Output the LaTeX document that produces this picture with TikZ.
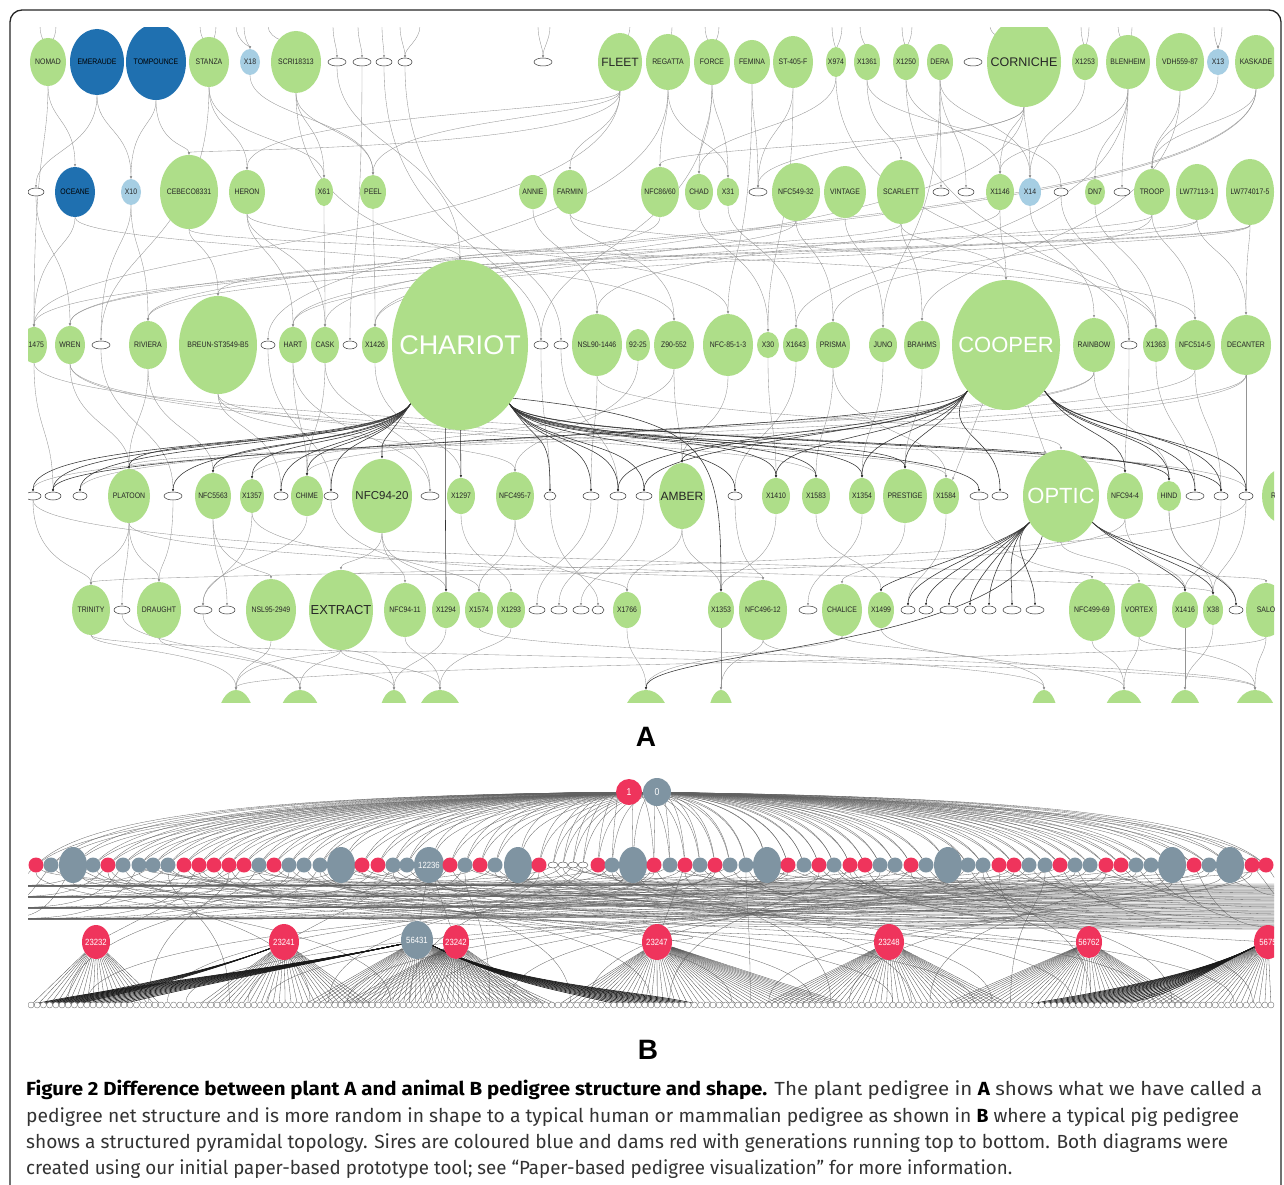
\documentclass[tikz,border=0pt]{standalone}
\usepackage{fontspec}
\usepackage{graphicx}
\setmainfont{Liberation Sans}
\newfontfamily\labfont[FakeStretch=0.86]{Liberation Sans}
\newfontfamily\bigfont{Liberation Sans}
\newfontfamily\capfont{Fira Sans}
\usetikzlibrary{shapes.geometric,arrows.meta}
\pgfdeclarelayer{bgl}
\pgfdeclarelayer{edges}
\pgfsetlayers{bgl,edges,main}
\definecolor{agreen}{RGB}{174,222,137}
\definecolor{adblue}{RGB}{31,112,176}
\definecolor{albue}{RGB}{166,206,227}
\definecolor{bred}{RGB}{239,52,92}
\definecolor{bgray}{RGB}{127,148,162}
\newcommand\tx[1]{\makebox[0pt]{#1}}
\newcommand\nd[6][gn]{\node[#1,minimum width=#5,minimum height=#6] (#2) at (#3) {\tx{#4}};}
\newcommand\sme[3][18]{\node[sm,minimum width=#1] (#2) at (#3) {};}
\tikzset{
  gn/.style={ellipse, fill=agreen, inner sep=0pt, text=black!85, font=\labfont\fontsize{8}{8}\selectfont},
  bn/.style={gn, fill=adblue, text=black},
  ln/.style={gn, fill=albue},
  sm/.style={ellipse, draw=black!80, line width=0.5pt, fill=white, minimum height=8, inner sep=0pt},
  fsz/.style={font=\bigfont\fontsize{#1}{#1}\selectfont},
  eA/.style={draw=black!42, line width=0.35pt, -{Latex[length=2.6pt,width=2.2pt]}},
  eT/.style={draw=black!80, line width=0.55pt, -{Latex[length=2.6pt,width=2.2pt]}},
  kr/.style={circle, fill=bred, minimum size=15, inner sep=0pt},
  kg/.style={circle, fill=bgray, minimum size=15, inner sep=0pt},
  kG/.style={ellipse, fill=bgray, minimum width=28, minimum height=36, inner sep=0pt},
  kX/.style={kG, minimum width=30, label={[text=white,font=\labfont\fontsize{9}{9}\selectfont]center:12236}},
  ke/.style={ellipse, draw=black!70, fill=white, line width=0.4pt, minimum width=10, minimum height=6, inner sep=0pt},
  kb/.style={ellipse, inner sep=0pt, text=white, font=\labfont\fontsize{9}{9}\selectfont},
  bnode/.style={circle, draw=black!55, fill=white, line width=0.4pt, minimum size=6, inner sep=0pt},
  eB/.style={draw=black!62, line width=0.3pt},
  fan/.style={draw=black!70, line width=0.3pt},
  eBt/.style={draw=black!90, line width=0.6pt},
}
\begin{document}
\begin{tikzpicture}[x=1pt,y=-1pt]
\useasboundingbox (0,0) rectangle (1284,1185);
\begin{pgfonlayer}{bgl}
\fill[white] (0,0) rectangle (1284,1185);
\end{pgfonlayer}
\draw[line width=1.3pt, black!85, rounded corners=12pt] (10,1200) -- (10,10) -- (1281,10) -- (1281,1200);

% ================= PANEL A nodes =================
\begin{scope}
\clip (28,28) rectangle (1274,702);
% row 1
\nd{nomad}{48,62}{NOMAD}{36}{48}
\nd[bn]{emeraude}{97,62}{EMERAUDE}{54}{66}
\nd[bn]{tompounce}{156,62}{TOMPOUNCE}{60}{76}
\nd{stanza}{209,62}{STANZA}{40}{50}
\nd[ln]{xeighteen}{250,62}{X18}{20}{26}
\nd{scri}{296,62}{SCRI18313}{50}{62}
\sme{s1a}{337,62} \sme{s1b}{362,62} \sme[16]{s1c}{384,62} \sme[14]{s1d}{405,62} \sme{s1e}{543,62}
\nd[gn,fsz=12]{fleet}{620,62}{FLEET}{44}{58}
\nd{regatta}{668,62}{REGATTA}{44}{56}
\nd{force}{712,62}{FORCE}{36}{46}
\nd{femina}{752,62}{FEMINA}{36}{44}
\nd{st405}{793,62}{ST-405-F}{40}{52}
\nd{x974}{836,62}{X974}{20}{30}
\nd{x1361}{867,62}{X1361}{26}{36}
\nd{x1250}{906,62}{X1250}{26}{36}
\nd{dera}{940,62}{DERA}{26}{36}
\sme{s1f}{973,62}
\nd[gn,fsz=12.5]{corniche}{1024,62}{CORNICHE}{74}{90}
\nd{x1253}{1085,62}{X1253}{26}{36}
\nd{blenheim}{1128,62}{BLENHEIM}{44}{54}
\nd{vdh}{1180,62}{VDH559-87}{48}{58}
\nd[ln]{xthirteen}{1218,62}{X13}{22}{26}
\nd{kaskade}{1256,62}{KASKADE}{42}{54}
% row 2
\sme[16]{s2a}{36,192}
\nd[bn]{oceane}{75,192}{OCEANE}{40}{50}
\nd[ln]{x10}{131,192}{X10}{20}{26}
\nd{cebeco}{189,192}{CEBECO8331}{58}{74}
\nd{heron}{247,192}{HERON}{36}{44}
\nd{x61}{324,192}{X61}{18}{28}
\nd{peel}{373,192}{PEEL}{26}{34}
\nd{annie}{533,192}{ANNIE}{28}{34}
\nd{farmin}{570,192}{FARMIN}{34}{44}
\nd{nfca}{660,192}{NFC86/60}{38}{50}
\nd{chad}{699,192}{CHAD}{28}{36}
\nd{x31}{728,192}{X31}{22}{28}
\sme{s2b}{758,192}
\nd{nfcb}{796,192}{NFC549-32}{48}{58}
\nd{vintage}{845,192}{VINTAGE}{42}{52}
\nd{scarlett}{901,192}{SCARLETT}{48}{64}
\sme[16]{s2c}{941,192} \sme[16]{s2d}{966,192}
\nd{x1146}{1000,192}{X1146}{28}{36}
\nd[ln]{x14}{1030,192}{X14}{22}{28}
\sme[14]{s2e}{1061,192}
\nd{dn7}{1095,192}{DN7}{20}{26}
\sme[16]{s2f}{1122,192}
\nd{troop}{1152,192}{TROOP}{36}{46}
\nd{lwa}{1197,192}{LW77113-1}{42}{56}
\nd{lwb}{1250,192}{LW774017-5}{48}{66}
% row 3
\nd{x1475}{34,345}{X1475}{26}{36}
\nd{wren}{70,345}{WREN}{30}{38}
\sme{s3a}{101,345}
\nd{riviera}{148,345}{RIVIERA}{38}{48}
\nd{breun}{218,345}{BREUN-ST3549-B5}{78}{98}
\sme[14]{s3b}{268,345}
\nd{hart}{293,345}{HART}{28}{36}
\nd{cask}{325,345}{CASK}{28}{36}
\sme[14]{s3c}{350,345}
\nd{x1426}{375,345}{X1426}{26}{36}
\nd[gn,fsz=27,text=white]{chariot}{460,345}{CHARIOT}{136}{170}
\sme[14]{s3d}{541,345} \sme[14]{s3e}{561,345}
\nd{nsl}{597,345}{NSL90-1446}{50}{62}
\nd{n9225}{638,345}{92-25}{24}{32}
\nd{z90}{674,345}{Z90-552}{40}{48}
\nd{nfcc}{728,345}{NFC-85-1-3}{50}{62}
\nd{x30}{768,345}{X30}{22}{26}
\nd{x1643}{796,345}{X1643}{26}{34}
\nd{prisma}{833,345}{PRISMA}{34}{46}
\nd{juno}{883,345}{JUNO}{28}{34}
\nd{brahms}{922,345}{BRAHMS}{36}{48}
\nd[gn,fsz=22,text=white]{cooper}{1006,345}{COOPER}{108}{130}
\nd{rainbow}{1094,345}{RAINBOW}{42}{54}
\sme[16]{s3f}{1129,345}
\nd{x1363}{1156,345}{X1363}{26}{34}
\nd{nfcd}{1195,345}{NFC514-5}{40}{50}
\nd{decanter}{1246,345}{DECANTER}{50}{60}
% row 4
\sme[16]{s4a}{33,496} \sme[16]{s4b}{53,496} \sme[14]{s4c}{80,496}
\nd{platoon}{129,496}{PLATOON}{42}{54}
\sme{s4d}{173,496}
\nd{nfce}{213,496}{NFC5563}{36}{46}
\nd{x1357}{252,496}{X1357}{24}{34}
\sme[14]{s4e}{281,496}
\nd{chime}{307,496}{CHIME}{32}{40}
\sme[14]{s4f}{331,496}
\nd[gn,fsz=11.5]{nfcf}{382,496}{NFC94-20}{60}{74}
\sme{s4g}{430,496}
\nd{x1297}{461,496}{X1297}{28}{36}
\nd{nfcg}{515,496}{NFC495-7}{38}{48}
\sme[12]{s4h}{550,496}
\sme[16]{s4i}{591,496} \sme[16]{s4j}{618,496} \sme[16]{s4k}{644,496}
\nd[gn,fsz=12]{amber}{682,496}{AMBER}{46}{66}
\sme[14]{s4l}{735,496}
\nd{x1410}{776,496}{X1410}{28}{36}
\nd{x1583}{816,496}{X1583}{28}{36}
\nd{x1354}{862,496}{X1354}{26}{36}
\nd{prestige}{905,496}{PRESTIGE}{44}{54}
\nd{x1584}{946,496}{X1584}{26}{36}
\sme{s4m}{979,496} \sme[16]{s4n}{1000,496}
\nd[gn,fsz=22,text=white]{optic}{1061,496}{OPTIC}{76}{92}
\nd{nfch}{1125,496}{NFC94-4}{36}{46}
\nd{hind}{1169,496}{HIND}{24}{30}
\sme{s4o}{1195,496} \sme[14]{s4p}{1221,496} \sme[14]{s4q}{1246,496}
\node[gn,minimum width=40,minimum height=54] (r4) at (1282,496) {\makebox[0pt][r]{R\hspace{6pt}}};
% row 5
\nd{trinity}{91,610}{TRINITY}{38}{50}
\sme[16]{s5a}{122,610}
\nd{draught}{159,610}{DRAUGHT}{44}{56}
\sme{s5b}{203,610} \sme[16]{s5c}{227,610}
\nd{nsl95}{271,610}{NSL95-2949}{50}{62}
\nd[gn,fsz=13]{extract}{341,610}{EXTRACT}{64}{80}
\nd{nfci}{405,610}{NFC94-11}{42}{54}
\nd{x1294}{446,610}{X1294}{28}{36}
\nd{x1574}{479,610}{X1574}{28}{36}
\nd{x1293}{511,610}{X1293}{28}{36}
\sme[16]{s5d}{537,610} \sme[16]{s5e}{559,610} \sme[16]{s5f}{581,610} \sme[12]{s5g}{598,610}
\nd{x1766}{627,610}{X1766}{28}{36}
\nd{x1353}{721,610}{X1353}{26}{36}
\nd{nfcj}{763,610}{NFC496-12}{48}{60}
\sme{s5h}{808,610}
\nd{chalice}{842,610}{CHALICE}{40}{52}
\nd{x1499}{881,610}{X1499}{26}{36}
\sme[14]{s5i}{908,610} \sme[14]{s5j}{926,610} \sme[18]{s5k}{949,610} \sme[12]{s5l}{970,610}
\sme[14]{s5m}{989,610} \sme[18]{s5n}{1012,610} \sme[18]{s5o}{1035,610}
\nd{nfck}{1092,610}{NFC499-69}{46}{62}
\nd{vortex}{1139,610}{VORTEX}{36}{54}
\nd{x1416}{1185,610}{X1416}{26}{36}
\nd{x38}{1213,610}{X38}{20}{30}
\sme[14]{s5p}{1236,610}
\nd{salo}{1266,610}{SALO}{40}{54}
% row 6 (cut)
\nd{r6a}{236,720}{}{36}{60}
\nd{r6b}{300,720}{}{42}{60}
\nd{r6c}{394,720}{}{30}{60}
\nd{r6d}{440,720}{}{46}{60}
\nd{r6e}{646,720}{}{46}{60}
\nd{r6f}{721,720}{}{26}{60}
\nd{r6g}{1044,720}{}{28}{60}
\nd{r6h}{1124,720}{}{42}{60}
\nd{r6i}{1185,720}{}{34}{60}
\nd{r6j}{1255,720}{}{44}{60}
\end{scope}

% ================= PANEL A edges =================
\begin{pgfonlayer}{edges}
\begin{scope}
\clip (28,28) rectangle (1274,702);
\foreach \nn/\xx [count=\j] in {nomad/40, nomad/56, stanza/200, stanza/216, xeighteen/244, xeighteen/236, s1a/333, s1b/358, s1c/382, s1d/400, s1e/538, s1e/550, fleet/630, regatta/672, force/705, force/719, x974/832, x974/842, x1361/860, x1250/902, x1250/912, corniche/1045, x1253/1081, x1253/1089, blenheim/1118, blenheim/1132, xthirteen/1214, xthirteen/1222, scri/268, s1d/420, corniche/990}
  {\coordinate (tp\j) at (\xx,26); \draw[eA] (tp\j) .. controls +(0,14) and +(0,-14) .. (\nn);}
% row1 -> row2
\foreach \pa/\ch/\yy in {nomad/oceane/120, emeraude/x10/130, tompounce/x10/125, stanza/heron/130, stanza/x61/140, xeighteen/peel/118, scri/x61/125, fleet/heron/112, fleet/peel/118, fleet/farmin/135, regatta/nfca/125, force/chad/130, force/x31/120, femina/s2b/125, st405/s2b/130, x974/chad/128, x1361/scarlett/135, x1250/x1146/130, dera/s2c/125, dera/s2d/130, dera/x14/120, corniche/x1146/125, corniche/x14/130, corniche/s2b/140, x1253/x14/125, blenheim/s2f/130, blenheim/x1146/140, vdh/troop/130, xthirteen/troop/120, kaskade/troop/125, regatta/x31/140, tompounce/cebeco/145, emeraude/s2a/150, blenheim/dn7/135, x1361/s2e/128, scri/peel/130, corniche/nfca/145, fleet/cebeco/150}
  \draw[eA] (\pa) .. controls (\pa |- 0,\yy) and (\ch |- 0,\yy) .. (\ch);
% rows 1/2 -> row 3
\foreach \pa/\ch/\yy in {oceane/x1475/248, x10/riviera/250, cebeco/breun/246, heron/hart/252, heron/cask/248, x61/cask/250, peel/x1426/246, annie/nsl/250, farmin/z90/248, nfca/chariot/252, chad/x30/250, x31/x1643/246, nfcb/prisma/248, vintage/juno/252, scarlett/brahms/250, scarlett/cooper/246, x1146/cooper/248, x14/rainbow/252, dn7/x1363/250, troop/nfcd/248, lwa/decanter/252, lwb/decanter/246, s2e/s3f/250, lwb/wren/250, kaskade/riviera/246, corniche/hart/254, fleet/x1475/244, scarlett/cask/248, cebeco/nfcd/252, nfcb/x1426/256, x1146/nsl/244, vdh/brahms/250, blenheim/x1643/254, regatta/s3b/248, oceane/z90/252, farmin/x1363/246, troop/prisma/256, heron/nfcc/244, s1a/chariot/150, s1b/s3c/255, s1c/s3d/250, s1d/s3e/246, stanza/s3a/248, scri/chariot/240, x1250/s3f/250, femina/nfcc/254, lwb/x1475/252, kaskade/wren/248, lwa/breun/244, s2a/wren/250, x10/s3a/246, nomad/x1475/150, st405/x30/240, force/s3d/245, x974/x1363/255, dera/juno/250, lwa/riviera/256, troop/x1426/242, lwb/hart/254}
  \draw[eA] (\pa) .. controls (\pa |- 0,\yy) and (\ch |- 0,\yy) .. (\ch);
% row 3 -> row 4 (thin)
\foreach \pa/\ch/\yy in {wren/platoon/425, riviera/platoon/420, riviera/nfce/430, breun/s4e/428, hart/chime/425, cask/chime/430, cask/s4g/420, x1426/x1297/435, nsl/s4i/428, z90/amber/425, nfcc/amber/430, x30/x1410/425, prisma/x1583/428, prisma/x1584/432, brahms/prestige/425, rainbow/hind/430, x1363/s4o/428, nfcd/s4p/425, decanter/s4q/430, juno/x1354/425, x1643/s4l/435, n9225/nfcg/428, x1475/s4b/430, s3a/s4d/425, s3b/s4f/432, breun/nfcg/440, wren/x1584/438, decanter/s4a/436, nfcd/s4c/432, rainbow/chime/428, x1475/s4q/432, wren/nfch/440, decanter/platoon/442, breun/x1583/438, rainbow/nfce/434, s3d/s4h/430, s3e/s4j/426, hart/s4g/436, nsl/optic/420, s3f/nfch/430, z90/x1357/440}
  \draw[eA] (\pa) .. controls (\pa |- 0,\yy) and (\ch |- 0,\yy) .. (\ch);
% thick bundles
\foreach \ch/\yy in {s4a/436,s4b/438,s4c/440,platoon/434,x1357/436,s4d/442,s4e/438,s4f/434,chime/440,nfce/438,nfcf/436}
  \draw[eT] (chariot.-130) .. controls +(-30,45) and (\ch |- 0,\yy) .. (\ch);
\foreach \ch/\yy in {s4h/430,s4i/434,s4j/436,s4k/438,s4l/436,x1410/430,x1583/432,s4m/440,prestige/434,hind/436,s4p/438,x1354/432}
  \draw[eT] (chariot.-50) .. controls +(30,45) and (\ch |- 0,\yy) .. (\ch);
\foreach \ch/\yy in {amber/436,x1354/432,prestige/434,s4k/438,s4b/442,x1410/436,s4j/430,s4n/434}
  \draw[eT] (cooper.-130) .. controls +(-30,45) and (\ch |- 0,\yy) .. (\ch);
\foreach \ch/\yy in {hind/432,s4o/436,s4q/438,nfch/434,s4p/430}
  \draw[eT] (cooper.-50) .. controls +(30,45) and (\ch |- 0,\yy) .. (\ch);
\draw[eT] (chariot) -- (x1297);
\draw[eA] (cooper) -- (x1584);
\draw[eA] (cooper) -- (optic);
% row 4 -> row 5
\foreach \pa/\ch/\yy in {platoon/trinity/560, platoon/draught/565, platoon/s5a/570, nfcf/extract/560, nfcf/nfci/565, nfcf/x1294/570, nfcg/x1574/565, chime/s5b/560, nfce/s5c/565, nfce/nsl95/570, x1357/s5b/575, amber/x1766/560, amber/x1353/565, prestige/chalice/570, x1583/x1499/560, nfch/x1416/565, hind/x38/560, hind/s5p/570, x1354/s5h/565, x1410/x1353/570, s4l/nfcj/572, x1297/x1293/565, s4i/s5d/560, s4j/s5e/565, s4k/s5f/570, s4h/s5g/575, nfcg/x1766/578, x1584/s5i/574, nfch/extract/578, optic/vortex/560, s4q/x38/565, s4p/x1416/570, s4a/trinity/568, x1357/nfcj/576, s4q/trinity/572, s4a/salo/568, platoon/x38/575, s4d/draught/562, s4f/x1574/566, s4m/nfck/572}
  \draw[eA] (\pa) .. controls (\pa |- 0,\yy) and (\ch |- 0,\yy) .. (\ch);
\foreach \ch/\yy in {s5i/575,s5j/578,s5k/581,s5l/584,s5m/578,s5n/572,s5o/568,x1499/580}
  \draw[eT] (optic.-140) .. controls +(-25,25) and (\ch |- 0,\yy) .. (\ch);
\foreach \ch/\yy in {x38/570,s5p/565,x1416/575}
  \draw[eT] (optic.-40) .. controls +(25,25) and (\ch |- 0,\yy) .. (\ch);
\draw[eT] (chariot.-100) .. controls +(0,150) and +(0,-60) .. (x1294);
\draw[eT] (chariot.-45) .. controls (715,420) and (721,450) .. (x1353);
% row 5 -> row 6
\foreach \pa/\ch/\yy in {extract/r6a/655, extract/r6b/660, extract/r6c/650, extract/r6d/665, nfci/r6d/655, x1294/r6c/660, trinity/r6a/650, draught/r6b/655, nsl95/r6a/662, nfcj/r6f/655, x1766/r6e/660, nfck/r6h/655, vortex/r6h/660, x1416/r6i/655, vortex/r6j/650, chalice/r6g/650, x1353/r6f/658, x1499/r6h/662, x1293/r6d/650, s5b/r6c/664, s5a/r6b/650, x1574/r6j/658, salo/r6j/655, x38/r6i/660, salo/r6a/662, trinity/r6j/658, nfcj/r6g/664, chalice/r6e/652}
  \draw[eA] (\pa) .. controls (\pa |- 0,\yy) and (\ch |- 0,\yy) .. (\ch);
\draw[eT] (optic.-115) .. controls (1010,650) and (646,650) .. (r6e);
\end{scope}
\end{pgfonlayer}

\node[font=\bigfont\bfseries\fontsize{28}{28}\selectfont] (labA) at (646,737) {A};

% ================= PANEL B =================
\def\rowB{36/r,51/g,73/G,93/g,108/r,123/g,139/g,153/g,168/g,184/r,199/r,214/r,229/r,244/r,259/g,274/r,289/g,304/g,320/g,341/G,362/r,378/r,393/g,407/g,429/X,450/r,465/g,480/r,495/g,518/G,539/r,553/e,563/e,573/e,583/e,598/r,612/g,633/G,654/r,670/g,685/r,700/g,715/r,730/g,746/g,767/G,788/r,804/g,819/r,834/g,850/r,865/r,880/g,895/g,911/r,926/g,948/G,968/g,983/g,999/r,1014/r,1029/g,1045/g,1060/r,1075/g,1090/g,1106/r,1121/r,1136/g,1151/g,1172/G,1194/r,1209/g,1230/G,1252/r,1266/r}
\begin{scope}
\clip (28,776) rectangle (1274,1012);
\node[kr, minimum size=26, text=white, font=\labfont\fontsize{10}{10}\selectfont] (one) at (629,792) {1};
\node[kg, minimum size=28, text=white, font=\labfont\fontsize{10}{10}\selectfont] (zero) at (657,792) {0};
\foreach \x/\t [count=\k] in \rowB { \node[k\t] (r2-\k) at (\x,865) {}; }
\node[kb, fill=bred, minimum width=28, minimum height=34] (p23232) at (96,942) {\tx{23232}};
\node[kb, fill=bred, minimum width=30, minimum height=36] (p23241) at (284,942) {\tx{23241}};
\node[kb, fill=bgray, minimum width=32, minimum height=38] (p56431) at (417,940) {\tx{56431}};
\node[kb, fill=bred, minimum width=26, minimum height=34] (p23242) at (456,942) {\tx{23242}};
\node[kb, fill=bred, minimum width=30, minimum height=36] (p23247) at (657,942) {\tx{23247}};
\node[kb, fill=bred, minimum width=30, minimum height=36] (p23248) at (889,942) {\tx{23248}};
\node[kb, fill=bred, minimum width=26, minimum height=32] (p56762) at (1089,942) {\tx{56762}};
\node[kb, fill=bred, minimum width=28, minimum height=34] (p5675) at (1268,942) {\tx{5675}};
\foreach \i in {0,...,200} \node[bnode] (bt-\i) at ({31+6.2*\i},1005) {};
\end{scope}
\begin{pgfonlayer}{edges}
\begin{scope}
\clip (28,776) rectangle (1274,1012);
\foreach \x/\t [count=\k] in \rowB {
  \pgfmathsetmacro\ca{629+(\x-629)*0.6}
  \pgfmathsetmacro\cb{\x+(629-\x)*0.1}
  \draw[eB] (one) .. controls (\ca,796) and (\cb,815) .. (r2-\k);
  \pgfmathsetmacro\cc{657+(\x-657)*0.6}
  \pgfmathsetmacro\cd{\x+(657-\x)*0.1}
  \draw[eB] (zero) .. controls (\cc,802) and (\cd,822) .. (r2-\k);
  \pgfmathsetmacro\yr{884+mod(\k*7,46)}
  \pgfmathsetmacro\mr{(\x+1300)/2}
  \coordinate (exr-\k) at (1300,\yr);
  \draw[eB] (r2-\k) .. controls (\x+30,\yr) and (\mr,\yr) .. (exr-\k);
  \pgfmathsetmacro\yl{886+mod(\k*11,44)}
  \pgfmathsetmacro\ml{(\x-20)/2}
  \coordinate (exl-\k) at (-20,\yl);
  \draw[eB] (r2-\k) .. controls (\x-30,\yl) and (\ml,\yl) .. (exl-\k);
}
\foreach \x/\t [count=\k] in \rowB {
  \pgfmathtruncatemacro\ia{mod(\k*47+11,201)}
  \pgfmathsetmacro\xa{31+6.2*\ia}
  \ifodd\k \draw[eB] (r2-\k) .. controls (\x,905) and (\xa,915) .. (bt-\ia); \fi
}
\foreach \p/\a/\b in {p23232/0/21, p23241/27/55, p56431/44/85, p23242/50/83, p23247/85/132, p23248/118/158, p56762/147/187, p5675/177/200}
  { \foreach \i in {\a,...,\b} \draw[fan] (\p) -- (bt-\i); }
\foreach \i in {0,...,14} \draw[eBt] (p56431.-165) .. controls +(-120,25) and +(60,-15) .. (bt-\i);
\foreach \i in {95,...,108} \draw[eBt] (p56431.-20) .. controls +(80,40) and +(-60,-15) .. (bt-\i);
\foreach \i in {0,...,6} \draw[eBt] (p23241.-155) .. controls +(-80,30) and +(50,-10) .. (bt-\i);
\foreach \i in {160,...,175} \draw[eBt] (p5675.-160) .. controls +(-60,30) and +(60,-10) .. (bt-\i);
\draw[eB] (r2-25) -- (p56431);
\draw[eB] (r2-25) -- (p23242);
\draw[eB] (r2-25) -- (p23241);
\draw[eB] (r2-14) -- (p23232);
\draw[eB] (r2-41) -- (p23247);
\draw[eB] (r2-3) .. controls (200,935) and (700,925) .. (p23248);
\draw[eB] (r2-20) .. controls (500,930) and (900,935) .. (p56762);
\draw[eB] (r2-50) .. controls (900,925) and (1150,935) .. (p5675);
\draw[eB] (r2-8) .. controls (300,930) and (800,930) .. (p23247);
\draw[eB] (r2-60) .. controls (1000,925) and (1050,930) .. (p56762);
\end{scope}
\end{pgfonlayer}

\node[font=\bigfont\bfseries\fontsize{28}{28}\selectfont] (labB) at (648,1050) {B};

% ================= caption =================
\begin{scope}[every node/.style={anchor=base west, inner sep=0pt, text=black!80, font=\capfont\fontsize{19}{20}\selectfont}]
\node (cap1) at (26,1095) {\resizebox{1236pt}{\height}{\textbf{\color{black}Figure 2 Difference between plant A and animal B pedigree structure and shape.} The plant pedigree in \textbf{\color{black}A} shows what we have called a}};
\node (cap2) at (26,1122) {\resizebox{1213pt}{\height}{pedigree net structure and is more random in shape to a typical human or mammalian pedigree as shown in \textbf{\color{black}B} where a typical pig pedigree}};
\node (cap3) at (26,1148) {\resizebox{1202pt}{\height}{shows a structured pyramidal topology. Sires are coloured blue and dams red with generations running top to bottom. Both diagrams were}};
\node (cap4) at (26,1174) {\resizebox{986pt}{\height}{created using our initial paper-based prototype tool; see “Paper-based pedigree visualization” for more information.}};
\end{scope}
\end{tikzpicture}
\end{document}
